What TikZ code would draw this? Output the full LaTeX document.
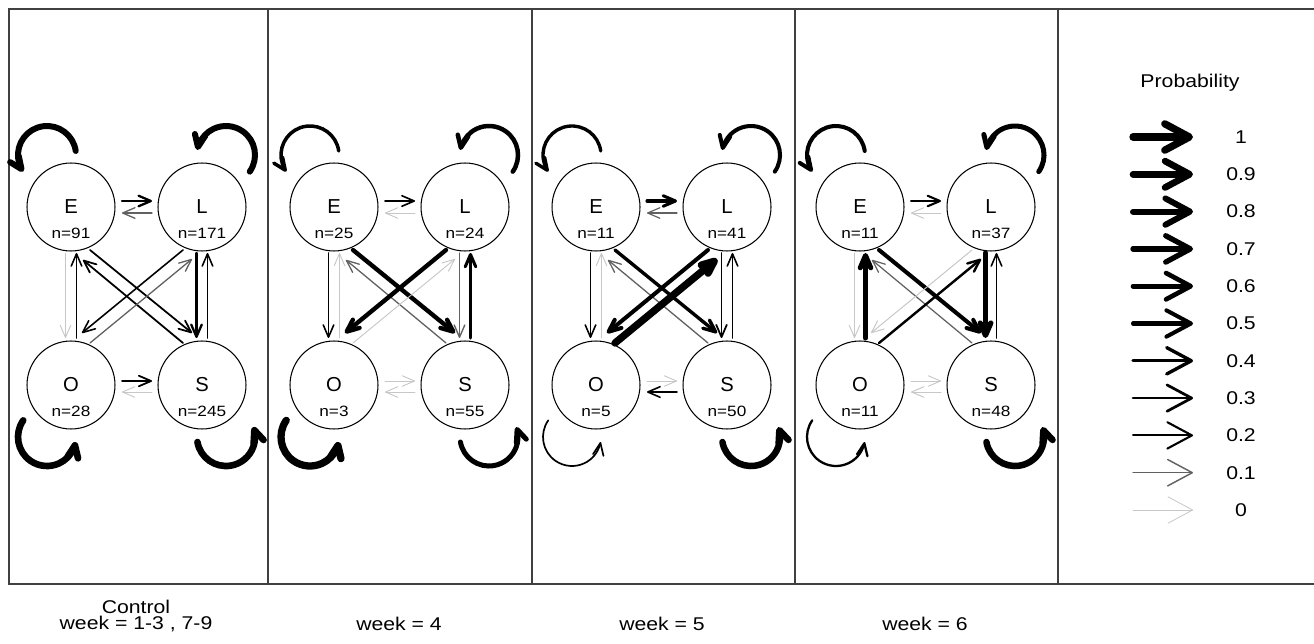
\documentclass[tikz,border=0pt]{standalone}
\usepackage{fontspec}
\setmainfont{Liberation Sans}
\newfontfamily\widesans{Liberation Sans}[FakeStretch=1.15]
\usetikzlibrary{arrows.meta,bending,calc}
\tikzset{
  >={Straight Barb[length=7pt,width=6pt,round]},
  pr/.code={%
    \pgfmathsetmacro\prwidth{0.45+3.7*#1}%
    \pgfmathtruncatemacro\prshade{(#1>0.05)+(#1>0.105)}%
    \pgfkeysalso{line width=\prwidth pt}%
    \ifcase\prshade \pgfkeysalso{draw=black!22}\or \pgfkeysalso{draw=black!62}\else \pgfkeysalso{draw=black}\fi},
  trans/.style={pr=#1,->,line cap=round},
  keyarrow/.style={pr=#1,-{Straight Barb[length=14pt,width=15pt,round]},line cap=round},
  state/.style={circle,draw,line width=0.6pt,minimum size=1.76cm,inner sep=0pt,
                font=\fontsize{11.5}{13}\selectfont},
  ncount/.style={inner sep=0pt,font=\fontsize{8.5}{10}\widesans},
  caption/.style={inner sep=0pt,font=\fontsize{10.5}{12}\widesans},
  frame/.style={draw=black!75,line width=0.75pt},
}
\begin{document}
\begin{tikzpicture}[x=0.02cm,y=0.02cm]
\useasboundingbox (0,0) rectangle (1314,643);
% frame and panels
\draw[frame] (1314,634) -- (9,634) -- (9,59) -- (1314,59);
\foreach \x in {268,532,795,1058}
  \draw[frame] (\x,59) -- (\x,634);

% states
\foreach \i/\xe/\ne/\nl/\no/\ns in {1/71/91/171/28/245,2/334/25/24/3/55,
                                    3/596/11/41/5/50,4/860/11/37/11/48}{
  \node[state] (E\i) at (\xe,436) {E};
  \node[state] (L\i) at (\xe+131,436) {L};
  \node[state] (O\i) at (\xe,258) {O};
  \node[state] (S\i) at (\xe+131,258) {S};
  \node[ncount] (nE\i) at (\xe,410) {n=\ne};
  \node[ncount] (nL\i) at (\xe+131,410) {n=\nl};
  \node[ncount] (nO\i) at (\xe,232) {n=\no};
  \node[ncount] (nS\i) at (\xe+131,232) {n=\ns};
}

% self loops
\foreach \i/\p in {1/0.8,2/0.42,3/0.4,4/0.5}
  \draw[trans=\p] ($(E\i)+(-24,52)+(8:29)$) arc[start angle=8,end angle=215,radius=29];
\foreach \i/\p in {1/0.8,2/0.57,3/0.5,4/0.65}
  \draw[trans=\p] ($(L\i)+(24,52)+(-35:29)$) arc[start angle=-35,end angle=170,radius=29];
\foreach \i/\p in {1/0.9,2/1,3/0.14,4/0.23}
  \draw[trans=\p] ($(O\i)+(-24,-52)+(145:29)$) arc[start angle=145,end angle=350,radius=29];
\foreach \i/\p in {1/0.9,2/0.65,3/0.88,4/0.88}
  \draw[trans=\p] ($(S\i)+(24,-52)+(190:29)$) arc[start angle=190,end angle=380,radius=29];

% horizontal
\foreach \i/\p in {1/0.23,2/0.13,3/0.35,4/0.2}
  \draw[trans=\p] ($(E\i)+(51,6)$) -- ($(L\i)+(-50,6)$);
\foreach \i/\p in {1/0.08,2/0.02,3/0.06,4/0.02}
  \draw[trans=\p] ($(L\i)+(-50,-6)$) -- ($(E\i)+(51,-6)$);
\foreach \i/\p in {1/0.15,2/0.02,3/0.02,4/0.02}
  \draw[trans=\p] ($(O\i)+(51,4)$) -- ($(S\i)+(-50,4)$);
\foreach \i/\p in {1/0.02,2/0.02,3/0.12,4/0.03}
  \draw[trans=\p] ($(S\i)+(-50,-7)$) -- ($(O\i)+(51,-7)$);

% vertical
\foreach \i/\p in {1/0.02,2/0.12,3/0.12,4/0.02}
  \draw[trans=\p] ($(E\i)+(-5.5,-46)$) -- ($(O\i)+(-5.5,47)$);
\foreach \i/\p in {1/0.12,2/0.02,3/0.02,4/0.65}
  \draw[trans=\p] ($(O\i)+(5.5,47)$) -- ($(E\i)+(5.5,-46)$);
\foreach \i/\p in {1/0.23,2/0.09,3/0.15,4/0.7}
  \draw[trans=\p] ($(L\i)+(-5.5,-46)$) -- ($(S\i)+(-5.5,47)$);
\foreach \i/\p in {1/0.12,2/0.35,3/0.12,4/0.12}
  \draw[trans=\p] ($(S\i)+(5.5,47)$) -- ($(L\i)+(5.5,-46)$);

% diagonals
\foreach \i/\p in {1/0.15,2/0.55,3/0.4,4/0.5}
  \draw[trans=\p] ($(E\i)+(19,-43)$) -- ($(S\i)+(-10,52)$);
\foreach \i/\p in {1/0.15,2/0.08,3/0.08,4/0.07}
  \draw[trans=\p] ($(S\i)+(-19,42)$) -- ($(E\i)+(12,-53)$);
\foreach \i/\p in {1/0.12,2/0.55,3/0.5,4/0.03}
  \draw[trans=\p] ($(L\i)+(-19,-43)$) -- ($(O\i)+(11,52)$);
\foreach \i/\p in {1/0.08,2/0.02,3/1,4/0.25}
  \draw[trans=\p] ($(O\i)+(19,42)$) -- ($(L\i)+(-10,-52)$);

% legend
\node[caption] (title) at (1190,560) {Probability};
\foreach \p [count=\k from 0] in {1,0.9,0.8,0.7,0.6,0.5,0.4,0.3,0.2,0.1,0}{
  \coordinate (a\k) at (1133,506-37.3*\k);
  \coordinate (b\k) at (1193,506-37.3*\k);
  \draw[keyarrow=\p] (a\k) -- (b\k);
  \node[caption] (v\k) at (1241,506-37.3*\k) {\p};
}

% panel captions
\node[caption] (ctrl) at (136,36.5) {Control};
\node[caption] (w1) at (136,19) {week = 1-3 , 7-9};
\node[caption] (w4) at (399,19) {week = 4};
\node[caption] (w5) at (662,19) {week = 5};
\node[caption] (w6) at (925,19) {week = 6};
\end{tikzpicture}
\end{document}
